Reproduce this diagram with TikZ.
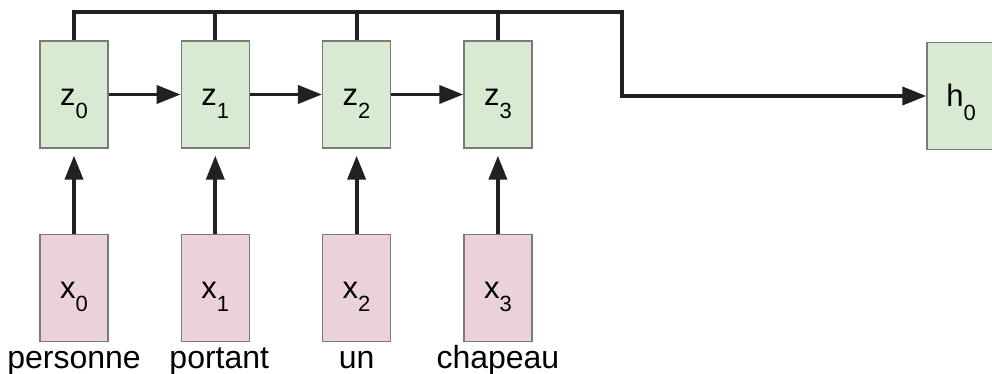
\documentclass[tikz,border=0pt]{standalone}
\usepackage{fontspec}
\setmainfont{Liberation Sans}
\definecolor{Zcol}{HTML}{D9EAD3}
\definecolor{Xcol}{HTML}{EAD1DC}
\definecolor{Edgecol}{HTML}{7A7A7A}
\definecolor{Linecol}{HTML}{212121}
\usetikzlibrary{arrows.meta, positioning}
\newcommand{\lowidx}[1]{\raisebox{-13.5pt}{\fontsize{22}{22}\selectfont #1}}
\tikzset{
    >={Triangle[length=24pt, width=18pt]},
    cell/.style={draw=Edgecol, line width=1.3pt, minimum width=68pt, minimum height=107pt,
        inner sep=0pt, text height=21pt, text depth=0pt, font=\fontsize{31}{36}\selectfont},
    zcell/.style={cell, fill=Zcol},
    xcell/.style={cell, fill=Xcol},
    word/.style={inner sep=0pt, text height=23pt, text depth=6pt, font=\fontsize{32}{38}\selectfont},
    link/.style={Linecol, line width=3.8pt}
}

\begin{document}
\begin{tikzpicture}[x=1pt, y=1pt]
    \useasboundingbox (0,0) rectangle (992,373);

    % Encoder states
    \node[zcell] (z0) at (74, 278.5) {z\lowidx{0}};
    \node[zcell, right=72pt of z0] (z1) {z\lowidx{1}};
    \node[zcell, right=72pt of z1] (z2) {z\lowidx{2}};
    \node[zcell, right=72pt of z2] (z3) {z\lowidx{3}};

    % Output state
    \node[zcell] (h0) at (961, 277) {h\lowidx{0}};

    % Inputs
    \node[xcell, below=85pt of z0] (x0) {x\lowidx{0}};
    \node[xcell, below=85pt of z1] (x1) {x\lowidx{1}};
    \node[xcell, below=85pt of z2] (x2) {x\lowidx{2}};
    \node[xcell, below=85pt of z3] (x3) {x\lowidx{3}};

    % Words under the inputs
    \node[word, below=3pt of x0] (w0) {personne};
    \node[word, below=3pt of x1, xshift=4pt] (w1) {portant};
    \node[word, below=3pt of x2] (w2) {un};
    \node[word, below=3pt of x3] (w3) {chapeau};

    % Recurrent links
    \foreach \i/\j in {0/1, 1/2, 2/3}
        \draw[link, ->] (z\i) -- (z\j);

    % Input links
    \foreach \i in {0,...,3}
        \draw[link, ->, shorten >=7pt] (x\i) -- (z\i);

    % Bus to the output
    \coordinate (bend) at (622, 361);
    \draw[link, ->] (z0.north) |- (bend) |- (h0.west);
    \foreach \i in {1,2,3}
        \draw[link] (z\i.north) -- (z\i.north |- bend);
\end{tikzpicture}
\end{document}
